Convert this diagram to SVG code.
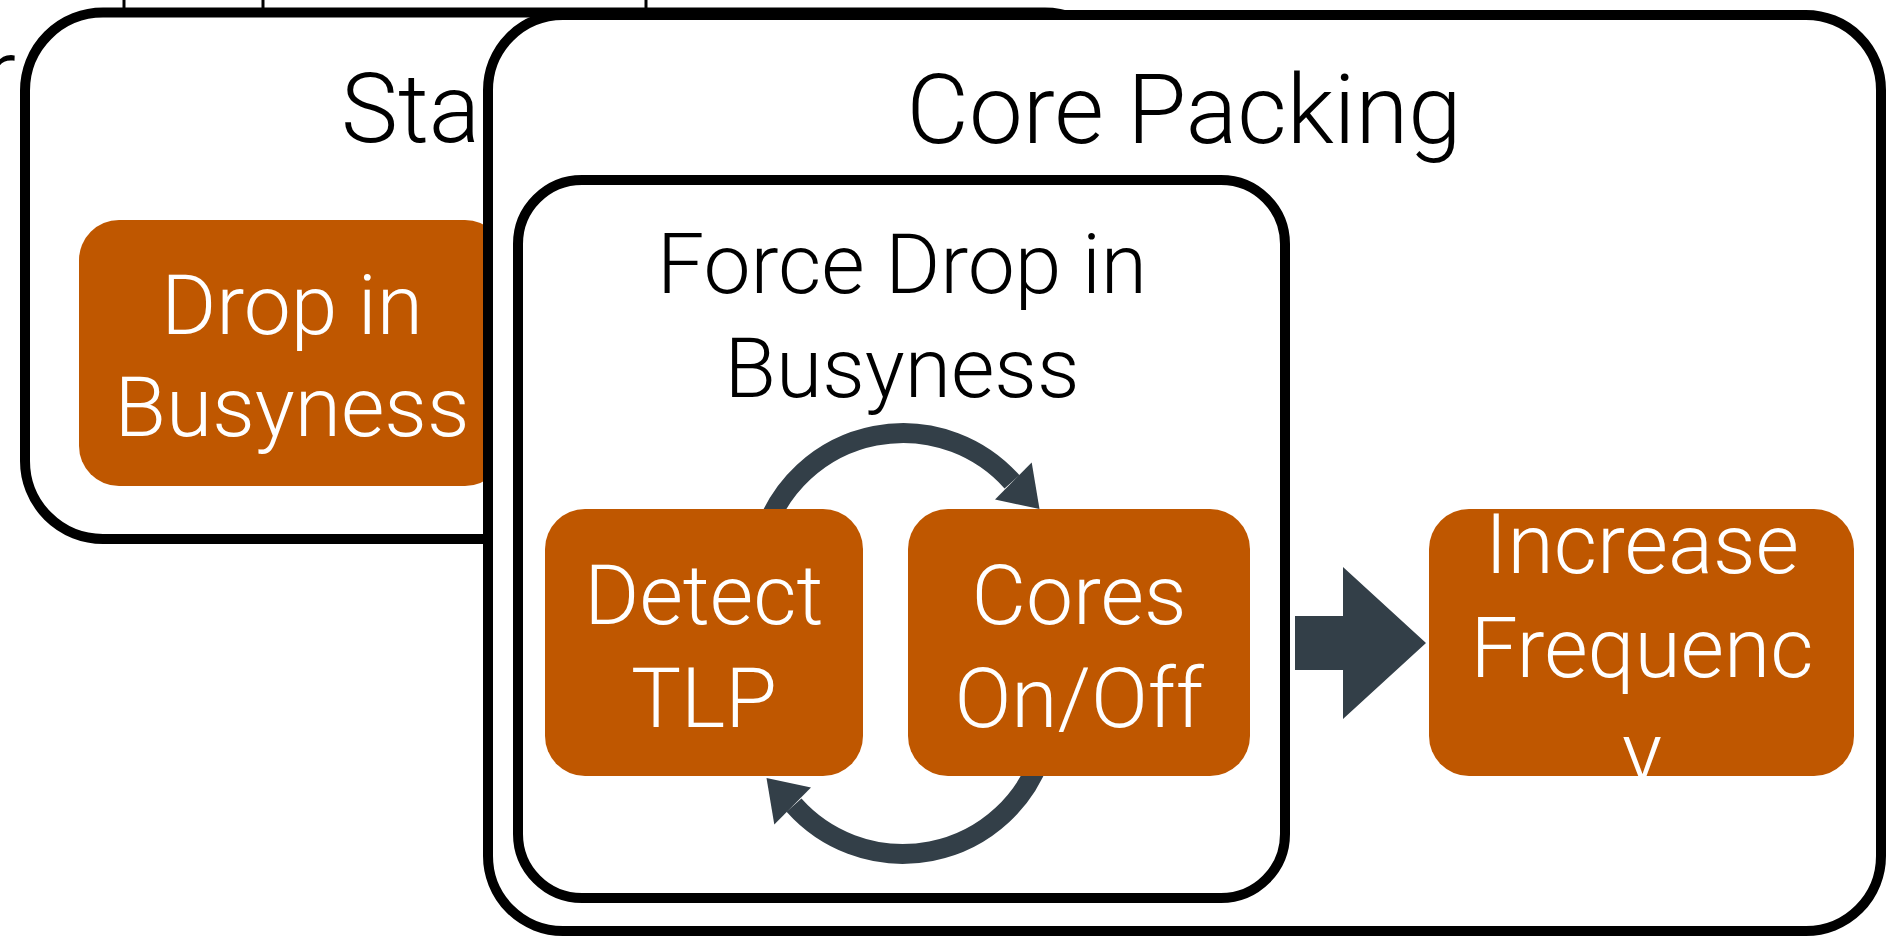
<svg xmlns="http://www.w3.org/2000/svg" width="1886" height="937" viewBox="0 0 1886 937">
<defs>
<style>
.frame{fill:#fff;stroke:#000;stroke-width:10}
.box{fill:#BF5700}
.txt{font-family:Roboto,"Liberation Sans",sans-serif;font-weight:300;text-anchor:middle}
.title{fill:#000;font-size:84px}
.big{font-size:96px}
.lbl{fill:#fff;font-size:84px}
.dark{fill:#333F48}
.arc{fill:none;stroke:#333F48;stroke-width:20}
.tick{stroke:#000;stroke-width:3}
</style>
<clipPath id="clipInc"><rect x="1429" y="509" width="425" height="267" rx="40"/></clipPath>
</defs>
<rect width="1886" height="937" fill="#fff"/>
<g id="background-fragments">
<line class="tick" x1="124" y1="0" x2="124" y2="10"/>
<line class="tick" x1="263" y1="0" x2="263" y2="10"/>
<line class="tick" x1="646" y1="0" x2="646" y2="10"/>
<text class="txt title big" x="16" y="107" style="text-anchor:end">r</text>
</g>
<g id="static-box">
<rect class="frame" x="25" y="12.5" width="1098" height="526.5" rx="78"/>
<text class="txt title big" x="341" y="142" style="text-anchor:start">Sta</text>
</g>
<g id="drop-in-busyness">
<rect class="box" x="79" y="220" width="426" height="266" rx="40"/>
<text class="txt lbl" x="292" y="334">Drop in</text>
<text class="txt lbl" x="292" y="436">Busyness</text>
</g>
<g id="core-packing">
<rect class="frame" x="488" y="15" width="1393" height="916" rx="75"/>
<text class="txt title big" x="1184" y="143">Core Packing</text>
</g>
<g id="force-drop-in-busyness">
<rect class="frame" x="518" y="180" width="767" height="718" rx="64"/>
<text class="txt title" x="902" y="293">Force Drop in</text>
<text class="txt title" x="902" y="397">Busyness</text>
</g>
<g id="connectors">
<g id="loop-top">
<path class="arc" d="M765.5 530 A146 146 0 0 1 1012 481.9"/>
<polygon class="dark" points="1031.7,462.5 1039.5,509 995,499.5"/>
</g>
<g id="loop-bottom" transform="rotate(180 903 643.5)">
<path class="arc" d="M765.5 530 A146 146 0 0 1 1012 481.9"/>
<polygon class="dark" points="1031.7,462.5 1039.5,509 995,499.5"/>
</g>
<polygon id="arrow-to-increase" class="dark" points="1295,616 1343,616 1343,567 1426,643 1343,719 1343,670 1295,670"/>
</g>
<g id="detect-tlp">
<rect class="box" x="545" y="509" width="318" height="267" rx="40"/>
<text class="txt lbl" x="704" y="624">Detect</text>
<text class="txt lbl" x="704" y="727">TLP</text>
</g>
<g id="cores-on-off">
<rect class="box" x="908" y="509" width="342" height="267" rx="40"/>
<text class="txt lbl" x="1079" y="624">Cores</text>
<text class="txt lbl" x="1079" y="727">On/Off</text>
</g>
<g id="increase-frequency">
<rect class="box" x="1429" y="509" width="425" height="267" rx="40"/>
<g clip-path="url(#clipInc)">
<text class="txt lbl" x="1642" y="573">Increase</text>
<text class="txt lbl" x="1642" y="677">Frequenc</text>
<text class="txt lbl" x="1642" y="781">y</text>
</g>
</g>
</svg>
